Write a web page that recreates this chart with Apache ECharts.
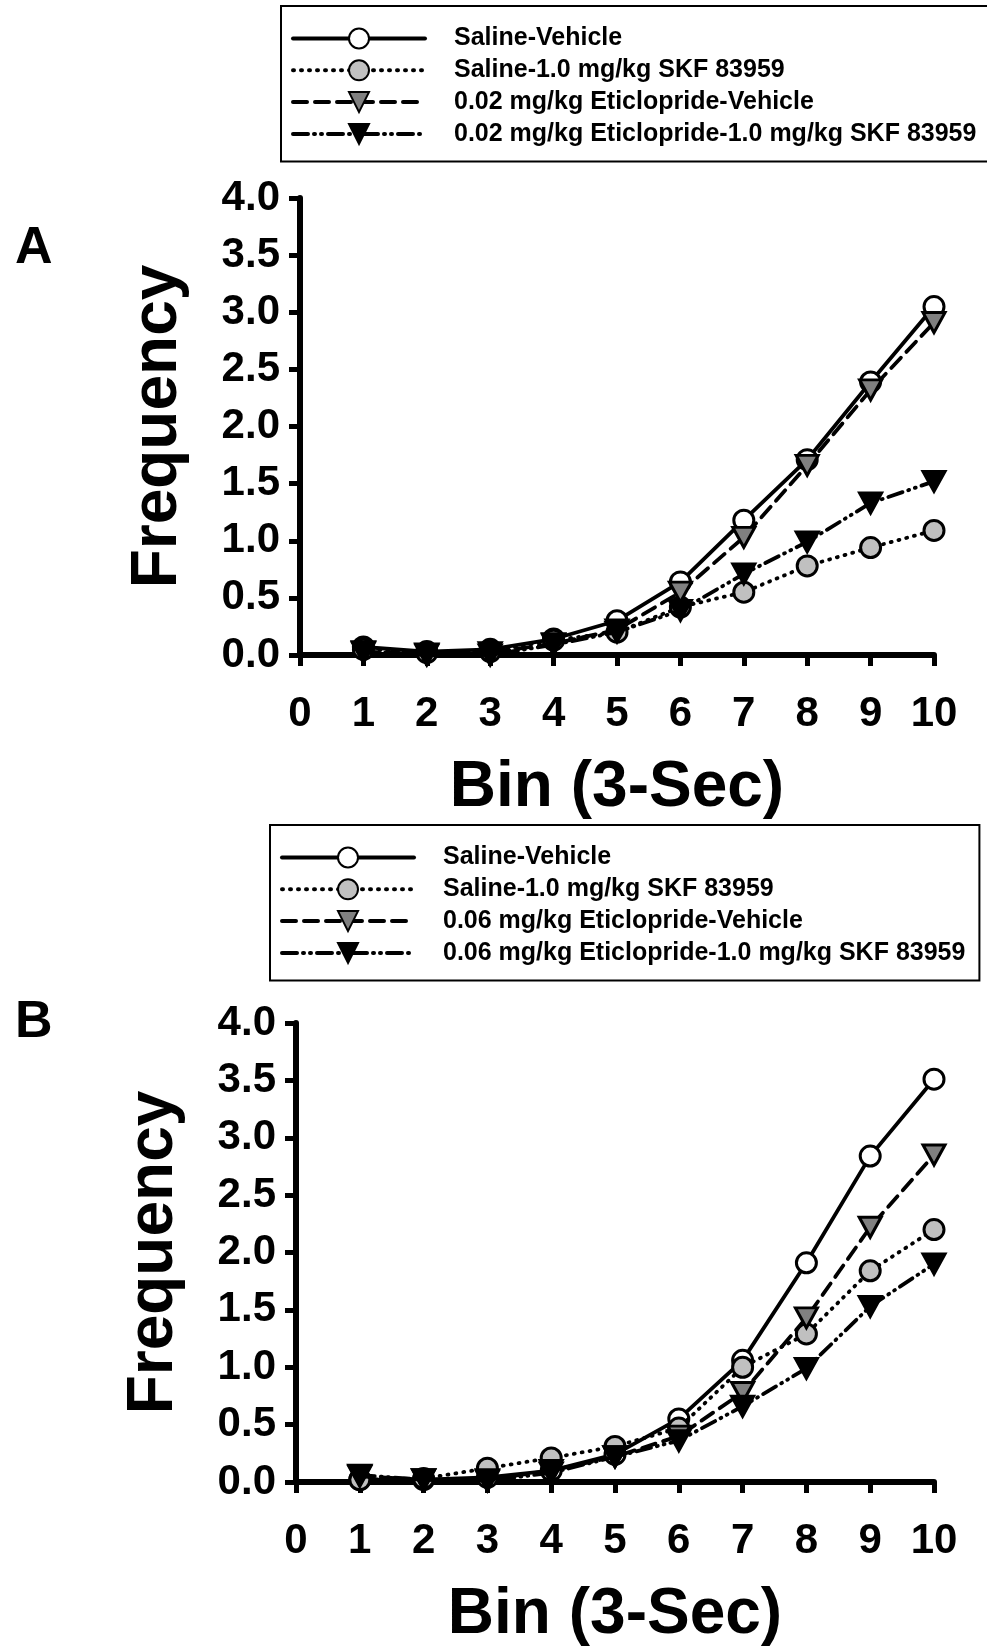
<!DOCTYPE html>
<html>
<head>
<meta charset="utf-8">
<script src="https://cdn.jsdelivr.net/npm/echarts@6/dist/echarts.min.js"></script>
<style>
html, body { margin: 0; padding: 0; background: #fff; }
#chart { width: 987px; height: 1649px; }
</style>
</head>
<body>
<div id="chart"></div>
<script>
var bins = [1, 2, 3, 4, 5, 6, 7, 8, 9, 10];
var yTicks = [0, 0.5, 1, 1.5, 2, 2.5, 3, 3.5, 4];

// panel A (0.02 mg/kg eticlopride)
var salVehA = [0.07, 0.03, 0.05, 0.14, 0.30, 0.64, 1.18, 1.71, 2.39, 3.05];
var salSkfA = [0.05, 0.02, 0.03, 0.13, 0.20, 0.42, 0.55, 0.78, 0.94, 1.09];
var etiVehA = [0.03, 0.01, 0.02, 0.10, 0.22, 0.55, 1.03, 1.66, 2.32, 2.91];
var etiSkfA = [0.02, 0.00, 0.00, 0.09, 0.20, 0.39, 0.71, 0.99, 1.33, 1.52];

// panel B (0.06 mg/kg eticlopride)
var salVehB = [0.02, 0.02, 0.04, 0.10, 0.24, 0.55, 1.06, 1.91, 2.84, 3.51];
var salSkfB = [0.02, 0.03, 0.12, 0.21, 0.31, 0.47, 1.00, 1.29, 1.84, 2.20];
var etiVehB = [0.05, 0.02, 0.02, 0.10, 0.22, 0.40, 0.78, 1.43, 2.22, 2.85];
var etiSkfB = [0.06, 0.02, 0.01, 0.08, 0.22, 0.36, 0.66, 0.99, 1.53, 1.90];

var namesA = ['Saline-Vehicle', 'Saline-1.0 mg/kg SKF 83959',
    '0.02 mg/kg Eticlopride-Vehicle', '0.02 mg/kg Eticlopride-1.0 mg/kg SKF 83959'];
var namesB = ['Saline-Vehicle', 'Saline-1.0 mg/kg SKF 83959',
    '0.06 mg/kg Eticlopride-Vehicle', '0.06 mg/kg Eticlopride-1.0 mg/kg SKF 83959'];

var FONT = '"Liberation Sans", Arial, sans-serif';

function pairs(vals) {
    return vals.map(function (v, i) { return [bins[i], v]; });
}

// one style per group, same order in both panels
var styles = [
    { symbol: 'circle', rotate: 0, fill: '#ffffff', dash: 'solid' },
    { symbol: 'circle', rotate: 0, fill: '#c0c0c0', dash: [1, 7] },
    { symbol: 'triangle', rotate: 180, fill: '#808080', dash: [14, 8] },
    { symbol: 'triangle', rotate: 180, fill: '#000000', dash: [15, 6, 1, 6, 1, 6] }
];

function makeSeries(idx, names, dataSets) {
    return dataSets.map(function (vals, i) {
        var s = styles[i];
        return {
            name: names[i],
            type: 'line',
            xAxisIndex: idx,
            yAxisIndex: idx,
            data: pairs(vals),
            symbol: s.symbol,
            symbolRotate: s.rotate,
            symbolSize: s.symbol == 'circle' ? 20 : [22, 20],
            z: 2 + i,
            lineStyle: { color: '#000', width: 3.8, type: s.dash, cap: 'round' },
            itemStyle: { color: s.fill, borderColor: '#000', borderWidth: 3 },
            animation: false
        };
    });
}

function makeLegend(names, left, top, padRight) {
    return {
        data: names,
        orient: 'vertical',
        left: left,
        top: top,
        itemWidth: 132,
        itemHeight: 25,
        itemGap: 6.8,
        padding: [20, padRight, 15, 10],
        borderColor: '#000',
        borderWidth: 2,
        selectedMode: false,
        lineStyle: { width: 4 },
        textStyle: { fontFamily: FONT, fontWeight: 'bold', fontSize: 25, color: '#000', padding: [0, 0, 0, 24] }
    };
}

function makeX(idx) {
    return {
        type: 'value', gridIndex: idx, min: 0, max: 10, interval: 1,
        name: 'Bin (3-Sec)', nameLocation: 'middle', nameGap: 101,
        nameTextStyle: { fontFamily: FONT, fontWeight: 'bold', fontSize: 64, color: '#000' },
        axisLine: { onZero: false, lineStyle: { color: '#000', width: 6 } },
        axisTick: { length: 11, lineStyle: { width: 5, color: '#000' } },
        axisLabel: { margin: 38, fontFamily: FONT, fontWeight: 'bold', fontSize: 42, color: '#000' },
        splitLine: { show: false }
    };
}

function makeY(idx) {
    return {
        type: 'value', gridIndex: idx, min: 0, max: 4, interval: 0.5,
        name: 'Frequency', nameLocation: 'middle', nameGap: 110, nameRotate: 90,
        nameTextStyle: { fontFamily: FONT, fontWeight: 'bold', fontSize: 64, color: '#000' },
        axisLine: { lineStyle: { color: '#000', width: 6 } },
        axisTick: { length: 11, lineStyle: { width: 5, color: '#000' } },
        axisLabel: {
            margin: 20, fontFamily: FONT, fontWeight: 'bold', fontSize: 42, color: '#000',
            formatter: function (v) { return yTicks.indexOf(v) >= 0 ? v.toFixed(1) : ''; }
        },
        splitLine: { show: false }
    };
}

var myChart = echarts.init(document.getElementById('chart'), null, { renderer: 'canvas' });
var option = {
    backgroundColor: '#fff',
    animation: false,
    title: [
        { text: 'A', left: 10, top: 218, textStyle: { fontFamily: FONT, fontWeight: 'bold', fontSize: 52, color: '#000' } },
        { text: 'B', left: 10, top: 992, textStyle: { fontFamily: FONT, fontWeight: 'bold', fontSize: 52, color: '#000' } }
    ],
    legend: [
        makeLegend(namesA, 281, 6, 12),
        makeLegend(namesB, 270, 825, 14)
    ],
    grid: [
        { left: 300, right: 53, top: 198, height: 457 },
        { left: 296, right: 53, top: 1023, height: 459 }
    ],
    xAxis: [makeX(0), makeX(1)],
    yAxis: [makeY(0), makeY(1)],
    series: makeSeries(0, namesA, [salVehA, salSkfA, etiVehA, etiSkfA])
        .concat(makeSeries(1, namesB, [salVehB, salSkfB, etiVehB, etiSkfB]))
};
myChart.setOption(option);
</script>
</body>
</html>
